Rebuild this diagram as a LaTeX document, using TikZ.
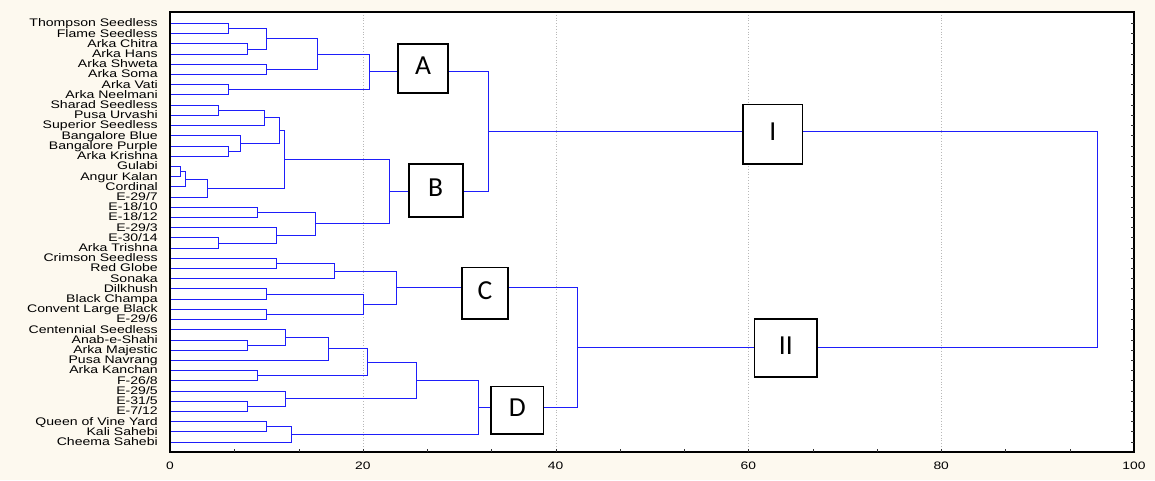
\documentclass[tikz,border=0pt]{standalone}
\usepackage{fontspec}
\usepackage{graphicx}
\setmainfont{Liberation Sans}
\newfontfamily\boxfont{Carlito}
\definecolor{cream}{RGB}{253,249,239}
\definecolor{dendro}{RGB}{30,30,250}
\newcommand\lbltxt[1]{\scalebox{1.28}[1]{\ignorespaces#1\unskip}}
\begin{document}
\begin{tikzpicture}[x=1pt,y=-1pt,
  declare function={px(\h)=round(170+9.64*\h)+0.5; py(\r)=round(23+10.21*\r)+0.5;},
  leaf/.style={anchor=east, inner sep=0pt, text height=7.7pt, text depth=0pt, font=\fontsize{11}{12}\selectfont},
  ticklab/.style={inner sep=0pt, text height=7.7pt, text depth=0pt, font=\fontsize{10.8}{12}\selectfont},
  tree/.style={draw=dendro, line width=1.2pt},
  clbox/.style={draw=black, line width=1.6pt, fill=white, inner sep=0pt, font=\boxfont\fontsize{27.5}{30}\selectfont, text height=17.4pt, text depth=5pt},
  gridln/.style={draw=black!28, dotted, line width=0.8pt},
  frame/.style={draw=black, line width=1.2pt},
  tick/.style={draw=black!80, line width=0.9pt}]
\fill[cream] (0,0) rectangle (1155,480);
\useasboundingbox (0,0) rectangle (1155,480);
\fill[white] (170,12) rectangle (1134,452);
\foreach \v in {20,40,60,80} \draw[gridln] ({px(\v)},12) -- ({px(\v)},452);

\foreach \t [count=\i from 0] in {Thompson Seedless,Flame Seedless,Arka Chitra,Arka Hans,Arka Shweta,Arka Soma,Arka Vati,Arka Neelmani,Sharad Seedless,Pusa Urvashi,Superior Seedless,Bangalore Blue,Bangalore Purple,Arka Krishna,Gulabi,Angur Kalan,Cordinal,E-29/7,E-18/10,E-18/12,E-29/3,E-30/14,Arka Trishna,Crimson Seedless,Red Globe,Sonaka,Dilkhush,Black Champa,Convent Large Black,E-29/6,Centennial Seedless,Anab-e-Shahi,Arka Majestic,Pusa Navrang,Arka Kanchan,F-26/8,E-29/5,E-31/5,E-7/12,Queen of Vine Yard,Kali Sahebi,Cheema Sahebi}{
  \coordinate (l\i) at ({px(0)},{py(\i)});
  \node[leaf] (t\i) at (158,{23+10.21*\i}) {\lbltxt{\t}};
}
% cluster A
\coordinate (a1) at ({px(6)},{py(0.5)});      \draw[tree] (l0) -| (a1) |- (l1);
\coordinate (a2) at ({px(8)},{py(2.5)});      \draw[tree] (l2) -| (a2) |- (l3);
\coordinate (a3) at ({px(10)},{py(1.5)});     \draw[tree] (a1) -| (a3) |- (a2);
\coordinate (a4) at ({px(10)},{py(4.5)});     \draw[tree] (l4) -| (a4) |- (l5);
\coordinate (a5) at ({px(15.3)},{py(3)});     \draw[tree] (a3) -| (a5) |- (a4);
\coordinate (a6) at ({px(6)},{py(6.5)});      \draw[tree] (l6) -| (a6) |- (l7);
\coordinate (nA) at ({px(20.6)},{py(4.75)});  \draw[tree] (a5) -| (nA) |- (a6);
% cluster B
\coordinate (b1) at ({px(5)},{py(8.5)});      \draw[tree] (l8) -| (b1) |- (l9);
\coordinate (b2) at ({px(9.7)},{py(9.25)});   \draw[tree] (b1) -| (b2) |- (l10);
\coordinate (b3) at ({px(6)},{py(12.5)});     \draw[tree] (l12) -| (b3) |- (l13);
\coordinate (b4) at ({px(7.3)},{py(11.75)});  \draw[tree] (l11) -| (b4) |- (b3);
\coordinate (b5) at ({px(11.3)},{py(10.5)});  \draw[tree] (b2) -| (b5) |- (b4);
\coordinate (b6) at ({px(1)},{py(14.5)});     \draw[tree] (l14) -| (b6) |- (l15);
\coordinate (b7) at ({px(1.6)},{py(15.25)});  \draw[tree] (b6) -| (b7) |- (l16);
\coordinate (b8) at ({px(3.8)},{py(16.125)}); \draw[tree] (b7) -| (b8) |- (l17);
\coordinate (b9) at ({px(11.8)},{py(13.3125)}); \draw[tree] (b5) -| (b9) |- (b8);
\coordinate (b10) at ({px(9)},{py(18.5)});    \draw[tree] (l18) -| (b10) |- (l19);
\coordinate (b11) at ({px(5)},{py(21.5)});    \draw[tree] (l21) -| (b11) |- (l22);
\coordinate (b12) at ({px(11)},{py(20.75)});  \draw[tree] (l20) -| (b12) |- (b11);
\coordinate (b13) at ({px(15)},{py(19.625)}); \draw[tree] (b10) -| (b13) |- (b12);
\coordinate (nB) at ({px(22.7)},{py(16.46875)}); \draw[tree] (b9) -| (nB) |- (b13);
\coordinate (nAB) at ({px(33)},{py(10.609)}); \draw[tree] (nA) -| (nAB) |- (nB);
% cluster C
\coordinate (c1) at ({px(11)},{py(23.5)});    \draw[tree] (l23) -| (c1) |- (l24);
\coordinate (c2) at ({px(17)},{py(24.25)});   \draw[tree] (c1) -| (c2) |- (l25);
\coordinate (c3) at ({px(10)},{py(26.5)});    \draw[tree] (l26) -| (c3) |- (l27);
\coordinate (c4) at ({px(10)},{py(28.5)});    \draw[tree] (l28) -| (c4) |- (l29);
\coordinate (c5) at ({px(20)},{py(27.5)});    \draw[tree] (c3) -| (c5) |- (c4);
\coordinate (nC) at ({px(23.4)},{py(25.875)}); \draw[tree] (c2) -| (nC) |- (c5);
% cluster D
\coordinate (d1) at ({px(8)},{py(31.5)});     \draw[tree] (l31) -| (d1) |- (l32);
\coordinate (d2) at ({px(11.9)},{py(30.75)}); \draw[tree] (l30) -| (d2) |- (d1);
\coordinate (d3) at ({px(16.4)},{py(31.875)}); \draw[tree] (d2) -| (d3) |- (l33);
\coordinate (d4) at ({px(9)},{py(34.5)});     \draw[tree] (l34) -| (d4) |- (l35);
\coordinate (d5) at ({px(20.4)},{py(33.1875)}); \draw[tree] (d3) -| (d5) |- (d4);
\coordinate (d6) at ({px(8)},{py(37.5)});     \draw[tree] (l37) -| (d6) |- (l38);
\coordinate (d7) at ({px(11.9)},{py(36.75)}); \draw[tree] (l36) -| (d7) |- (d6);
\coordinate (d8) at ({px(25.5)},{py(34.96875)}); \draw[tree] (d5) -| (d8) |- (d7);
\coordinate (d9) at ({px(10)},{py(39.5)});    \draw[tree] (l39) -| (d9) |- (l40);
\coordinate (d10) at ({px(12.6)},{py(40.25)}); \draw[tree] (d9) -| (d10) |- (l41);
\coordinate (nD) at ({px(31.9)},{py(37.609)}); \draw[tree] (d8) -| (nD) |- (d10);
\coordinate (nCD) at ({px(42.2)},{py(31.742)}); \draw[tree] (nC) -| (nCD) |- (nD);
\coordinate (root) at ({px(96.2)},{py(21.176)}); \draw[tree] (nAB) -| (root) |- (nCD);

% cluster boxes
\node[clbox, minimum width=50pt, minimum height=49pt] (bA) at (423,68.5) {A};
\node[clbox, minimum width=54pt, minimum height=53pt] (bB) at (435.7,190.5) {B};
\node[clbox, minimum width=46pt, minimum height=51.4pt] (bC) at (485,293) {C};
\node[clbox, minimum width=52.7pt, minimum height=47.7pt] (bD) at (517.3,410.2) {D};
\node[clbox, minimum width=59.6pt, minimum height=59.7pt] (bI) at (772.8,134.2) {I};
\node[clbox, minimum width=62.5pt, minimum height=58.3pt] (bII) at (785.8,347.9) {II};

% axes
\draw[frame] (170,12) rectangle (1134,452);
\foreach \k in {1,...,14} \draw[tick] ({px(20/3*\k)},452) -- ++(0,-3.5);
\foreach \i in {0,...,41} \draw[tick] (1134,{py(\i)}) -- ++(-3.5,0);
\foreach \v in {0,20,40,60,80,100} \node[ticklab] (x\v) at ({170+9.64*\v},466) {\lbltxt{\v}};
\end{tikzpicture}
\end{document}
